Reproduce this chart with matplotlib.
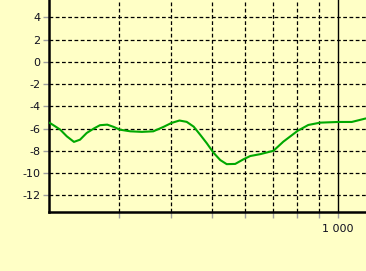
import matplotlib
matplotlib.use("Agg")
import matplotlib.pyplot as plt
from matplotlib.ticker import FixedLocator, NullLocator

# response curve (Hz, dB)
freq = [205, 211, 217, 225, 234, 242, 251, 261, 270, 281, 291, 301, 319, 340, 362,
        383, 400, 418, 435, 452, 469, 486, 504, 523, 542, 568, 594, 617, 652, 701,
        740, 801, 849, 906, 1001, 1078, 1160]
level = [-5.5, -5.8, -6.1, -6.7, -7.2, -7.0, -6.4, -6.0, -5.7, -5.65, -5.85, -6.1, -6.25, -6.3, -6.25,
         -5.85, -5.5, -5.28, -5.4, -5.83, -6.58, -7.33, -8.17, -8.83, -9.2, -9.18, -8.77, -8.47, -8.3, -8.0,
         -7.18, -6.2, -5.68, -5.47, -5.41, -5.41, -5.11]

grid_x = [300, 400, 500, 600, 700, 800, 900]
yticks = [4, 2, 0, -2, -4, -6, -8, -10, -12]

bg = "#FFFFC6"
fig = plt.figure(figsize=(3.66, 2.71), dpi=100, facecolor=bg)
ax = fig.add_axes([49/366, 59/271, 1 - 49/366, 1 - 59/271], facecolor=bg)

ax.set_xscale("log")
ax.set_xlim(204, 1166)
ax.set_ylim(-13.5, 5.55)

for g in grid_x:
    ax.axvline(g, color="black", lw=0.9, ls=(0, (3, 2)), zorder=1)
ax.axvline(1000, color="black", lw=1.0, zorder=1)
for y in yticks:
    ax.axhline(y, color="black", lw=0.9, ls=(0, (3, 2)), zorder=1)

ax.plot(freq, level, color="#00A800", lw=1.5, zorder=3)

ax.xaxis.set_major_locator(FixedLocator(grid_x + [1000]))
ax.xaxis.set_minor_locator(NullLocator())
ax.set_xticklabels(["", "", "", "", "", "", "", "1 000"])
ax.set_yticks(yticks)
ax.set_yticklabels([str(v) for v in yticks])

ax.tick_params(axis="both", direction="out", length=4, width=1, color="#A0A0A0",
               labelsize=8, labelcolor="#101020", pad=2)
ax.tick_params(axis="x", pad=5)

for s in ["top", "right"]:
    ax.spines[s].set_visible(False)
for s in ["left", "bottom"]:
    ax.spines[s].set_linewidth(1.8)
    ax.spines[s].set_color("black")

fig.savefig("out.png", dpi=100, facecolor=bg)
